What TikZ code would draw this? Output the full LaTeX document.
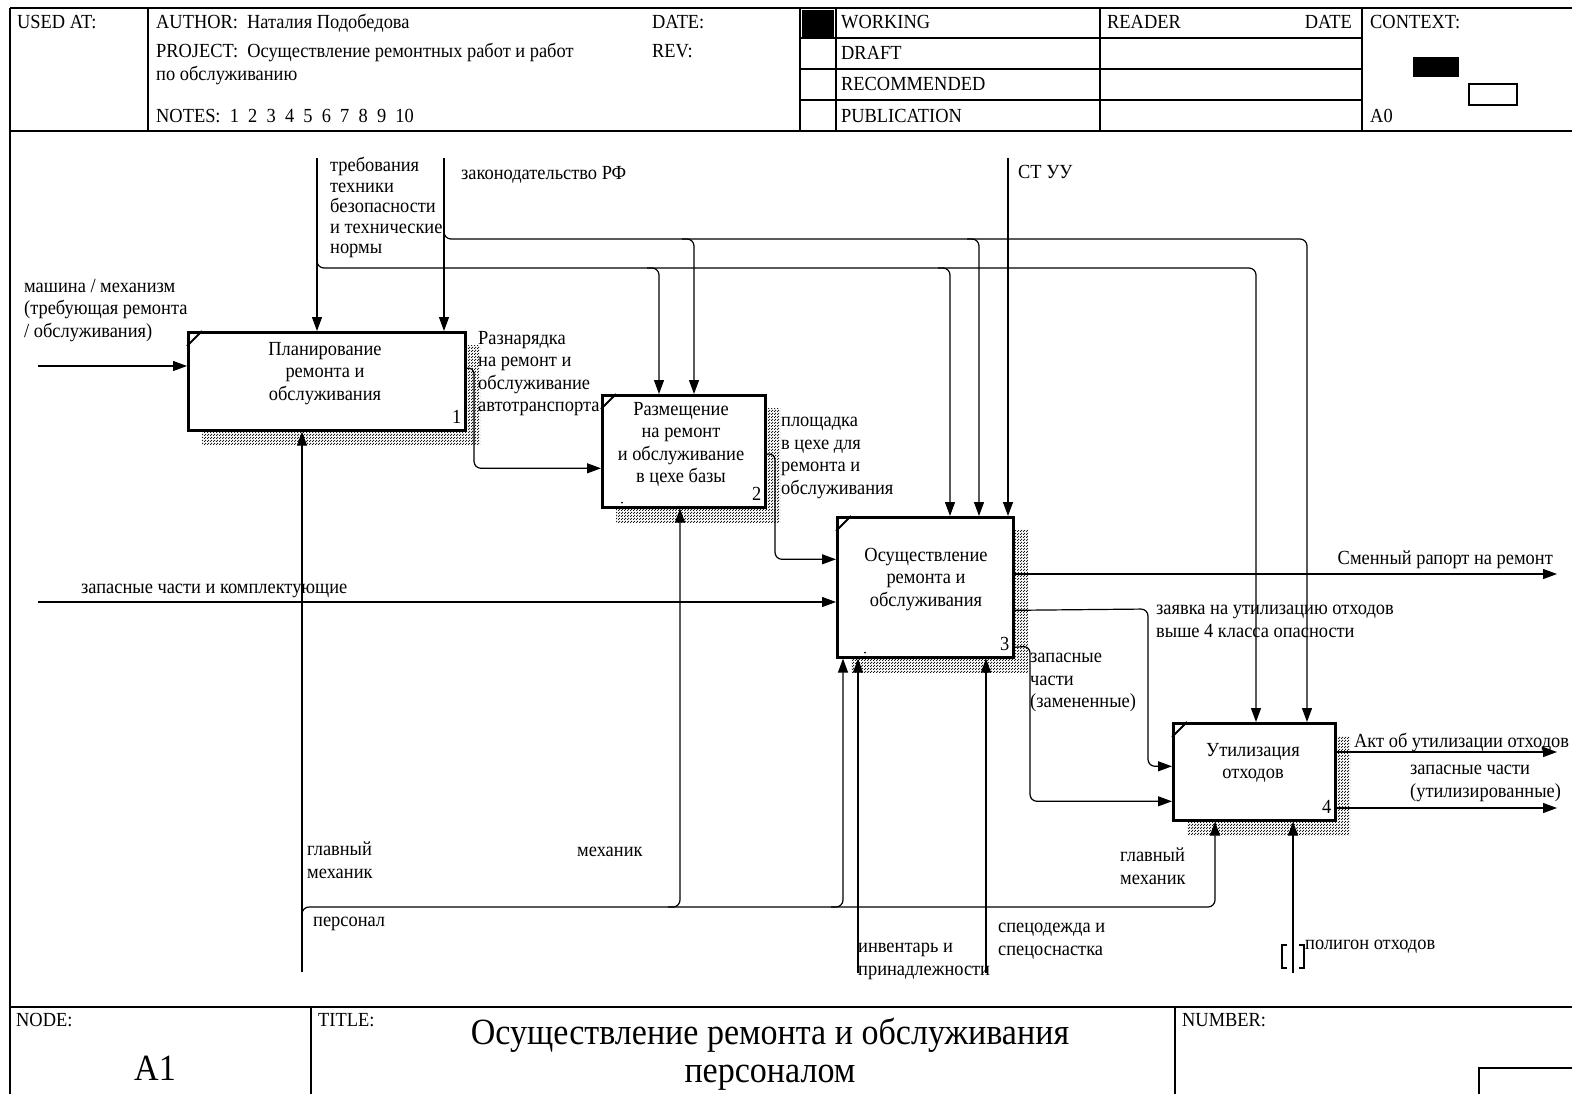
\documentclass[tikz,border=0pt]{standalone}
\usepackage{fontspec}
\setmainfont[FakeStretch=0.92]{Liberation Serif}
\usetikzlibrary{arrows.meta,patterns,calc}

\newcommand\lblsize{\fontsize{20}{22.5}\selectfont}
\newcommand\ttlsize{\fontsize{37}{38}\selectfont}

% fine dithered fill used for the box shadows
\pgfdeclarepatternformonly{dither}{\pgfqpoint{0pt}{0pt}}{\pgfqpoint{3pt}{3pt}}{\pgfqpoint{3pt}{3pt}}{%
  \pgfpathrectangle{\pgfqpoint{0pt}{0pt}}{\pgfqpoint{1.4pt}{1.4pt}}%
  \pgfpathrectangle{\pgfqpoint{1.5pt}{1.5pt}}{\pgfqpoint{1.4pt}{1.4pt}}%
  \pgfusepath{fill}}

\tikzset{
  hdr/.style={line width=1.6pt},
  htxt/.style={anchor=base west, inner sep=0pt, font=\lblsize},
  lbl/.style={anchor=north west, inner sep=0pt, align=left, font=\lblsize,
              yshift=-7pt},
  btxt/.style={anchor=north, inner sep=0pt, align=center, font=\lblsize,
               yshift=-7pt},
  box/.style={draw, line width=2.6pt, fill=white, anchor=north west, inner sep=0pt},
  bnum/.style={anchor=base east, inner sep=0pt, font=\lblsize},
  shade/.style={pattern=dither, pattern color=black!90},
  conn/.style={line width=1.2pt, rounded corners=7pt},
  arr/.style={conn, -{Triangle[length=14pt,width=10pt]}},
}

\begin{document}
\begin{tikzpicture}[x=1pt,y=-1pt]
\useasboundingbox (0,0) rectangle (1572,1093);

% ---------- header ----------
\draw[hdr] (10,8) -- (1600,8);
\draw[hdr] (10,131) -- (1600,131);
\draw[hdr] (10,8) -- (10,1100);
\draw[hdr] (148,8) -- (148,131);
\draw[hdr] (800,8) -- (800,131);
\draw[hdr] (836,8) -- (836,131);
\draw[hdr] (1100,8) -- (1100,131);
\draw[hdr] (1362,8) -- (1362,131);
\draw[hdr] (800,38) -- (1362,38);
\draw[hdr] (800,69) -- (1362,69);
\draw[hdr] (800,100) -- (1362,100);
\fill (802,10) rectangle (834,37);
\fill (1413,57) rectangle (1459,77);
\draw[line width=1.4pt] (1469,84) rectangle (1517,105);

\node[htxt] (usedat) at (17,28) {USED AT:};
\node[htxt] (author) at (156,28) {AUTHOR:\ \ Наталия Подобедова};
\node[htxt] (date) at (652,28) {DATE:};
\node[htxt] (project) at (156,57) {PROJECT:\ \ Осуществление ремонтных работ и работ};
\node[htxt] (project2) at (156,80) {по обслуживанию};
\node[htxt] (rev) at (652,57) {REV:};
\node[htxt] (notes) at (156,122) {NOTES:\ \ 1\ \ 2\ \ 3\ \ 4\ \ 5\ \ 6\ \ 7\ \ 8\ \ 9\ \ 10};
\node[htxt] (working) at (841,28) {WORKING};
\node[htxt] (draft) at (841,59) {DRAFT};
\node[htxt] (recom) at (841,90) {RECOMMENDED};
\node[htxt] (publ) at (841,122) {PUBLICATION};
\node[htxt] (reader) at (1107,28) {READER};
\node[htxt, anchor=base east] (rdate) at (1352,28) {DATE};
\node[htxt] (context) at (1370,28) {CONTEXT:};
\node[htxt] (ctxnode) at (1370,122) {A0};

% ---------- footer ----------
\draw[hdr] (10,1007) -- (1600,1007);
\draw[hdr] (311,1007) -- (311,1100);
\draw[hdr] (1175,1007) -- (1175,1100);
\draw[hdr] (1479,1100) |- (1600,1068);
\node[htxt] (nodelbl) at (16,1026) {NODE:};
\node[htxt] (titlelbl) at (318,1026) {TITLE:};
\node[htxt] (numlbl) at (1182,1026) {NUMBER:};
\node[anchor=base, inner sep=0pt, font=\ttlsize] (nodeno) at (155,1080) {A1};
\node[anchor=north, inner sep=0pt, align=center, font=\ttlsize] (title) at (770,1018)
      {Осуществление ремонта и обслуживания\\персоналом};

% ---------- shadows ----------
\fill[shade] (202,345) rectangle (480,444);
\fill[shade] (616,408) rectangle (780,522);
\fill[shade] (851,530) rectangle (1028,672);
\fill[shade] (1187,736) rectangle (1350,835);

% ---------- activity boxes ----------
\node[box, minimum width=277pt, minimum height=98pt] (b1) at (187,331) {};
\node[box, minimum width=163pt, minimum height=112pt] (b2) at (601,394) {};
\node[box, minimum width=176pt, minimum height=140pt] (b3) at (836,516) {};
\node[box, minimum width=162pt, minimum height=97pt] (b4) at (1172,722) {};

\foreach \b in {b1,b2,b3,b4}{
  \draw[line width=2pt] ([shift={(0,15)}]\b.north west) -- ([shift={(15,0)}]\b.north west);
}
\fill ([shift={(21,-6)}]b2.south west) circle (0.9pt);
\fill ([shift={(29,-6)}]b3.south west) circle (0.9pt);

\node[btxt] (b1t) at (325,335) {Планирование\\ремонта и\\обслуживания};
\node[btxt] (b2t) at (681,395) {Размещение\\на ремонт\\и обслуживание\\в цехе базы};
\node[btxt] (b3t) at (926,541) {Осуществление\\ремонта и\\обслуживания};
\node[btxt] (b4t) at (1253,736) {Утилизация\\отходов};
\node[bnum] (b1n) at ([shift={(-5,-8)}]b1.south east) {1};
\node[bnum] (b2n) at ([shift={(-5,-8)}]b2.south east) {2};
\node[bnum] (b3n) at ([shift={(-5,-8)}]b3.south east) {3};
\node[bnum] (b4n) at ([shift={(-5,-8)}]b4.south east) {4};

% ---------- ports ----------
\coordinate (busT) at (317,268);
\coordinate (busL) at (444,239);
\coordinate (busM) at (302,907);
\coordinate (cT) at (317,158);
\coordinate (cL) at (444,158);
\coordinate (cS) at (1008,158);
\coordinate (d2T) at ([shift={(58,0)}]b2.north west);
\coordinate (d3T) at ([shift={(114,0)}]b3.north west);
\coordinate (d4T) at ([shift={(84,0)}]b4.north west);
\coordinate (d2L) at ([shift={(93,0)}]b2.north west);
\coordinate (d3L) at ([shift={(143,0)}]b3.north west);
\coordinate (d4L) at ([shift={(135,0)}]b4.north west);
\coordinate (j2T) at (d2T |- busT);
\coordinate (j3T) at (d3T |- busT);
\coordinate (j4T) at (d4T |- busT);
\coordinate (j2L) at (d2L |- busL);
\coordinate (j3L) at (d3L |- busL);
\coordinate (j4L) at (d4L |- busL);

\coordinate (mP) at (302,972);
\coordinate (mI) at (858,973);
\coordinate (mS) at (986,973);
\coordinate (mG) at (1293,973);
\coordinate (d2M) at ([shift={(79,0)}]b2.south west);
\coordinate (d3M) at ([shift={(7,0)}]b3.south west);
\coordinate (d4M) at ([shift={(43,0)}]b4.south west);
\coordinate (j2M) at (d2M |- busM);
\coordinate (j3M) at (d3M |- busM);
\coordinate (j4M) at (d4M |- busM);

\coordinate (iM) at (38,366);
\coordinate (iZ) at (38,602);
\coordinate (oS) at (1557,574);
\coordinate (oA) at (1557,752);
\coordinate (oZ) at (1557,808);

% ---------- controls ----------
\draw[arr] (cT) -- (cT |- b1.north);
\draw[arr] (cL) -- (cL |- b1.north);
\draw[arr] (cS) -- (cS |- b3.north);
\draw[arr] ([shift={(0,-12)}]busT) |- (j4T) -- (d4T);
\draw[arr] ([shift={(-12,0)}]j2T) -| (d2T);
\draw[arr] ([shift={(-12,0)}]j3T) -| (d3T);
\draw[arr] ([shift={(0,-12)}]busL) |- (j4L) -- (d4L);
\draw[arr] ([shift={(-12,0)}]j2L) -| (d2L);
\draw[arr] ([shift={(-12,0)}]j3L) -| (d3L);

% ---------- inputs ----------
\draw[arr] (iM) -- (iM -| b1.west);
\draw[arr] (iZ) -- (iZ -| b3.west);

% ---------- outputs ----------
\draw[arr] ([shift={(0,-13)}]b1.east) -- (474,367) |- ([shift={(0,17)}]b2.west);
\draw[arr] ([shift={(0,3)}]b2.east) -- (775,453) |- ([shift={(0,-28)}]b3.west);
\draw[arr] (oS -| b3.east) -- (oS);
\draw[arr] ([shift={(0,23)}]b3.east) -- (1148,609) |- ([shift={(0,-5.5)}]b4.west);
\draw[arr] ([shift={(0,60)}]b3.east) -- (1030,646) |- ([shift={(0,29.5)}]b4.west);
\draw[arr] (oA -| b4.east) -- (oA);
\draw[arr] (oZ -| b4.east) -- (oZ);

% ---------- mechanisms ----------
\draw[arr] (mP) -- (mP |- b1.south);
\draw[arr] ([shift={(0,10)}]busM) |- (j4M) -- (d4M);
\draw[arr] ([shift={(-12,0)}]j2M) -| (d2M);
\draw[arr] ([shift={(-12,0)}]j3M) -| (d3M);
\draw[arr] (mI) -- (mI |- b3.south);
\draw[arr] (mS) -- (mS |- b3.south);
\draw[arr] (mG) -- (mG |- b4.south);
% tunnel brackets
\draw[line width=1.2pt] (1287,945) -- (1282,945) -- (1282,968) -- (1287,968);
\draw[line width=1.2pt] (1299,945) -- (1304,945) -- (1304,968) -- (1299,968);

% ---------- arrow labels ----------
\node[lbl] (lM) at (24,272) {машина / механизм\\(требующая ремонта\\/ обслуживания)};
\node[lbl, font=\fontsize{20}{20.5}\selectfont] (lT) at (330,150)
      {требования\\техники\\безопасности\\и технические\\нормы};
\node[lbl] (lL) at (461,159) {законодательство РФ};
\node[lbl] (lS) at (1018,158) {СТ УУ};
\node[lbl] (lR) at (478,324) {Разнарядка\\на ремонт и\\обслуживание\\автотранспорта};
\node[lbl] (lP) at (781,410) {площадка\\в цехе для\\ремонта и\\обслуживания};
\node[lbl] (lZ) at (81,577) {запасные части и комплектующие};
\node[lbl, anchor=north east] (lSm) at (1553,544) {Сменный рапорт на ремонт};
\node[lbl] (lU) at (1156,598) {заявка на утилизацию отходов\\выше 4 класса опасности};
\node[lbl] (lZz) at (1030,646) {запасные\\части\\(замененные)};
\node[lbl] (lA) at (1354,726) {Акт об утилизации отходов};
\node[lbl] (lZu) at (1410,758) {запасные части\\(утилизированные)};
\node[lbl] (lGM) at (307,835) {главный\\механик};
\node[lbl] (lMe) at (577,840) {механик};
\node[lbl] (lPe) at (313,910) {персонал};
\node[lbl] (lGM2) at (1120,841) {главный\\механик};
\node[lbl] (lI) at (858,936) {инвентарь и\\принадлежности};
\node[lbl] (lSp) at (998,916) {спецодежда и\\спецоснастка};
\node[lbl] (lPo) at (1305,933) {полигон отходов};
\end{tikzpicture}
\end{document}
